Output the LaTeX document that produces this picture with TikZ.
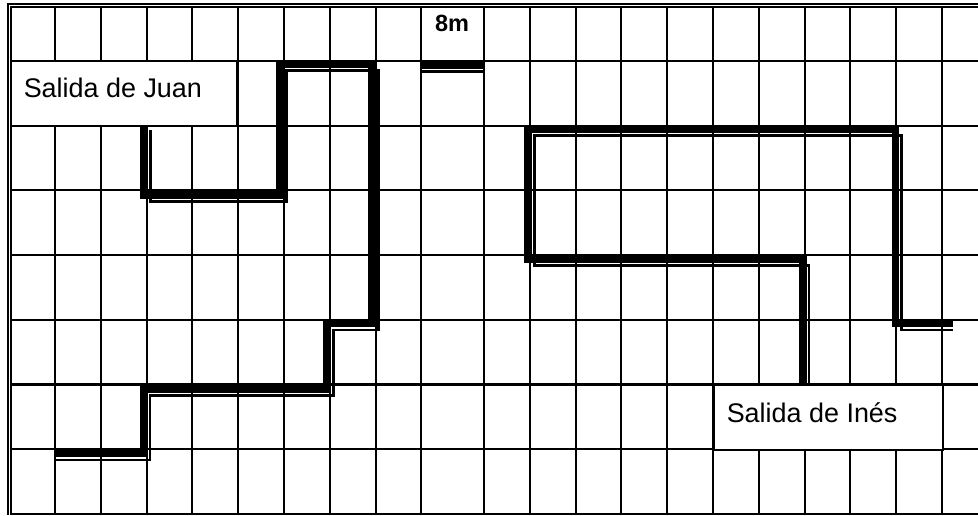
\documentclass[tikz,border=0pt]{standalone}
\usepackage{fontspec}
\setmainfont{Liberation Sans}
\usepackage{tikz}
\usetikzlibrary{positioning}
\definecolor{PlanoTinta}{HTML}{000000}
\definecolor{PlanoFondo}{HTML}{FFFFFF}
\tikzset{
  rejilla/.style={draw=PlanoTinta,line width=1.6pt},
  borde/.style={draw=PlanoTinta,line width=1.3pt},
  caja/.style={draw=PlanoTinta,line width=1.6pt,fill=PlanoFondo},
  camino/.style={draw=PlanoTinta,line width=5.3pt,line join=miter},
  sombra/.style={draw=PlanoTinta,line width=1.7pt},
  rotulo/.style={inner sep=0pt,anchor=base west,font=\fontsize{20.2}{24}\selectfont},
  escala/.style={inner sep=0pt,anchor=base,font=\bfseries\fontsize{17.6}{21}\selectfont}
}

\begin{document}
\begin{tikzpicture}[x=0.75pt,y=-0.75pt]
  \useasboundingbox (0,0) rectangle (978,515);
  % rejilla
  \foreach \i in {0,...,8} \draw[rejilla] ({55+45.8*\i},7) -- ({55+45.8*\i},515);
  \foreach \i in {0,...,10} \draw[rejilla] ({484+45.8*\i},7) -- ({484+45.8*\i},515);
  \foreach \j in {0,...,7} \draw[rejilla] (11,{61+64.7*\j}) -- (978,{61+64.7*\j});
  % marco doble
  \draw[borde] (8,515) -- (8,4) -- (978,4);
  \draw[borde] (11,515) -- (11,7) -- (978,7);
  % cajas de los rotulos
  \draw[caja] (11,61) rectangle (237,126);
  \draw[caja] (714,385) rectangle (943,450);
  % camino de Juan
  \draw[camino] (144,126) -- (144,195) -- (280,195) -- (280,64) -- (372,64) -- (372,323.5)
    -- (327,323.5) -- (327,389) -- (143.5,389) -- (143.5,453.5) -- (55,453.5);
  \draw[sombra] (150.5,130) -- (150.5,201.5) -- (286.5,201.5) -- (286.5,70.5) -- (378.5,70.5)
    -- (378.5,330) -- (333.5,330) -- (333.5,395.5) -- (150,395.5) -- (150,460) -- (55,460);
  % escala
  \draw[camino] (422,65) -- (484,65);
  \draw[sombra] (422,71.5) -- (484,71.5);
  % camino de Ines
  \draw[camino] (803,385) -- (803,259) -- (528,259) -- (528,129) -- (895.5,129)
    -- (895.5,323.5) -- (953,323.5);
  \draw[sombra] (809,385) -- (809,265.5) -- (534.5,265.5) -- (534.5,135.5) -- (901.5,135.5)
    -- (901.5,330) -- (953,330);
  % rotulos
  \node[rotulo] (juan) at (23.5,97) {Salida de Juan};
  \node[rotulo] (ines) at (726.5,422) {Salida de Inés};
  \node[escala] (ocho) at (452,31) {8m};
\end{tikzpicture}
\end{document}
